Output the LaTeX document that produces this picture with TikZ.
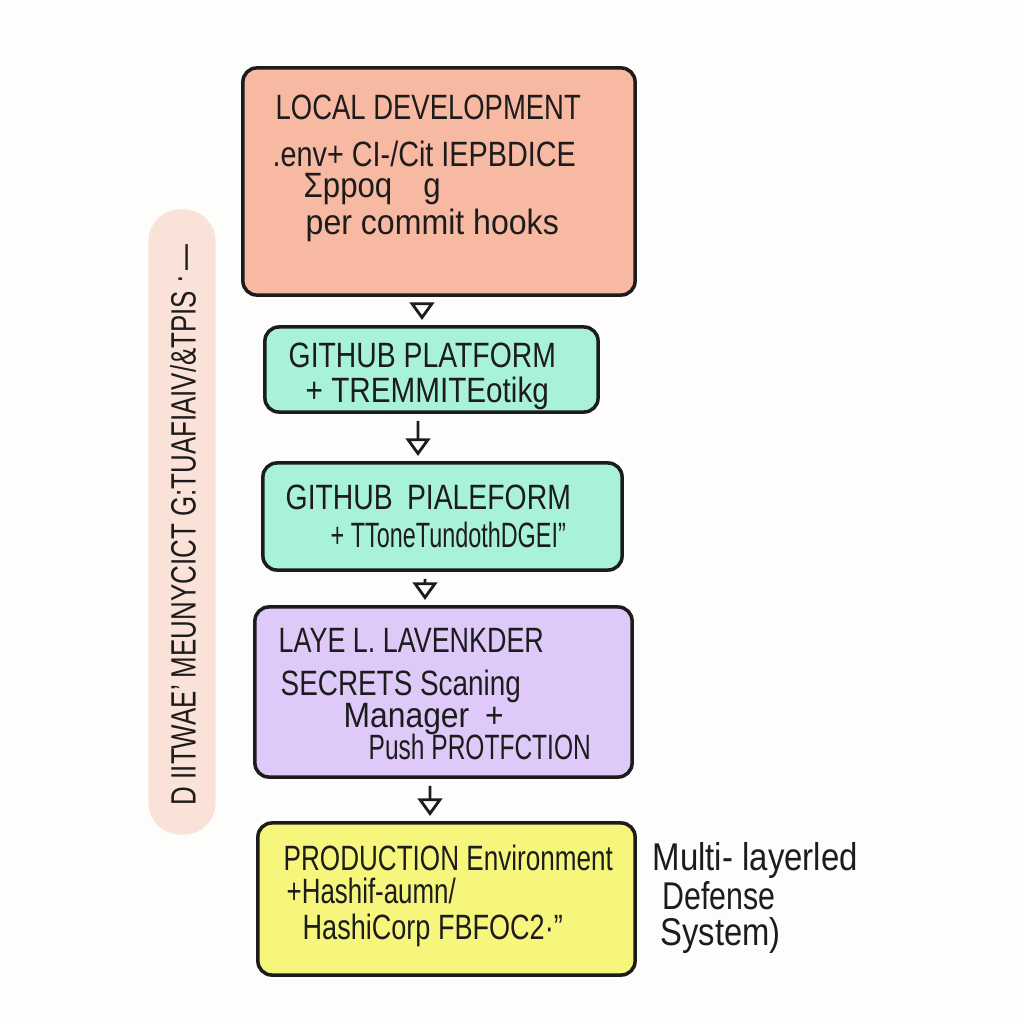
\documentclass[tikz,border=0pt]{standalone}
\usepackage{fontspec}
\setmainfont{Liberation Sans}
\usetikzlibrary{arrows.meta}
\definecolor{bgc}{HTML}{FDFDFB}
\definecolor{salmon}{HTML}{F8B9A2}
\definecolor{mint}{HTML}{A9F2DA}
\definecolor{lav}{HTML}{DEC9F8}
\definecolor{yel}{HTML}{F6F57C}
\definecolor{pill}{HTML}{FBE2D8}
\definecolor{ink}{HTML}{1C1C1C}
\newcommand{\fw}[2]{\resizebox{#1}{\height}{#2}}
\tikzset{
  box/.style={draw=ink, line width=1pt, rounded corners=0.14cm, inner sep=0pt},
  txt/.style={anchor=base west, inner sep=0pt, text=ink, font=\fontsize{10}{12}\selectfont},
  arr/.style={draw=ink, line width=0.8pt, -{Triangle[open,length=5pt,width=7pt]}, shorten <=2pt, shorten >=1.5pt}
}
\begin{document}
\begin{tikzpicture}[x=0.01cm,y=-0.01cm]
\useasboundingbox[fill=bgc] (0,0) rectangle (1024,1024);
% side pill
\node[fill=pill, rounded corners=0.32cm, minimum width=0.67cm, minimum height=6.25cm, inner sep=0pt] (pill) at (182,522) {};
\node[rotate=90, inner sep=0pt, text=ink, font=\fontsize{10}{12}\selectfont] (side) at (183,525) {\fw{5.6cm}{D IITWAE' MEUNYCICT G:TUAFIAIV/\&TPIS \raisebox{0.3ex}{·}\,—}};
% boxes
\node[box, fill=salmon, minimum width=3.92cm, minimum height=2.27cm] (b1) at (439,181.5) {};
\node[box, fill=mint, minimum width=3.33cm, minimum height=0.85cm] (b2) at (431.5,369.5) {};
\node[box, fill=mint, minimum width=3.59cm, minimum height=1.07cm] (b3) at (442.5,516.5) {};
\node[box, fill=lav, minimum width=3.77cm, minimum height=1.70cm] (b4) at (443.5,692) {};
\node[box, fill=yel, minimum width=3.77cm, minimum height=1.52cm] (b5) at (446.5,899) {};
% connectors
\draw[arr] ([xshift=-0.17cm]b1.south) -- ([xshift=-0.095cm]b2.north);
\draw[arr] ([xshift=-0.135cm]b2.south) -- ([xshift=-0.245cm]b3.north);
\draw[arr] ([xshift=-0.175cm]b3.south) -- ([xshift=-0.185cm]b4.north);
\draw[arr] ([xshift=-0.135cm]b4.south) -- ([xshift=-0.165cm]b5.north);
% box 1 text
\node[txt] (t11) at (275,119) {\fw{3.05cm}{LOCAL DEVELOPMENT}};
\node[txt] (t12) at (272,166) {\fw{3.03cm}{.env+ CI-/Cit IEPBDICE}};
\node[txt] (t13) at (303,197) {\fw{1.37cm}{Σppoq\quad g}};
\node[txt] (t14) at (305,234) {\fw{2.53cm}{per commit hooks}};
% box 2 text
\node[txt] (t21) at (288,367) {\fw{2.67cm}{GITHUB PLATFORM}};
\node[txt] (t22) at (305,402) {\fw{2.43cm}{+ TREMMITEotikg}};
% box 3 text
\node[txt] (t31) at (285,509) {\fw{2.85cm}{GITHUB\enspace PIALEFORM}};
\node[txt] (t32) at (330,547) {\fw{2.35cm}{+ TToneTundothDGEI''}};
% box 4 text
\node[txt] (t41) at (278,652) {\fw{2.65cm}{LAYE L. LAVENKDER}};
\node[txt] (t42) at (280,695) {\fw{2.40cm}{SECRETS Scaning}};
\node[txt] (t43) at (343,727) {\fw{1.60cm}{Manager\enspace +}};
\node[txt] (t44) at (368,759) {\fw{2.22cm}{Push PROTFCTION}};
% box 5 text
\node[txt] (t51) at (283,870) {\fw{3.29cm}{PRODUCTION Environment}};
\node[txt] (t52) at (286,903) {\fw{1.69cm}{+Hashif-aumn/}};
\node[txt] (t53) at (302,939) {\fw{2.60cm}{HashiCorp FBFOC2·''}};
% right caption
\node[txt, font=\fontsize{11}{13}\selectfont] (r1) at (652,870) {\fw{2.05cm}{Multi- layerled}};
\node[txt, font=\fontsize{11}{13}\selectfont] (r2) at (662,909) {\fw{1.13cm}{Defense}};
\node[txt, font=\fontsize{11}{13}\selectfont] (r3) at (660,945) {\fw{1.20cm}{System)}};
\end{tikzpicture}
\end{document}
